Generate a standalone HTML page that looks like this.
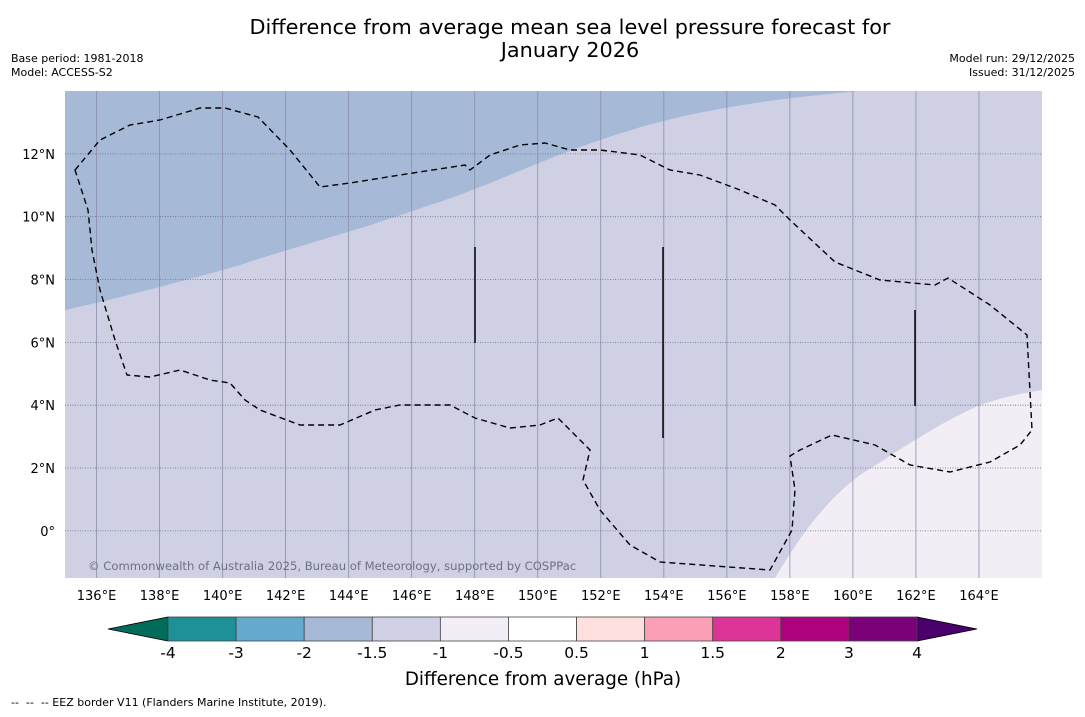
<!DOCTYPE html>
<html><head><meta charset="utf-8"><style>
body{margin:0;background:#fff;font-family:"DejaVu Sans","Liberation Sans",sans-serif;}
svg text{font-family:"DejaVu Sans","Liberation Sans",sans-serif;}
</style></head><body>
<svg id="s" width="1085" height="713" xmlns="http://www.w3.org/2000/svg">
<text x="570" y="34" font-size="20.8" text-anchor="middle">Difference from average mean sea level pressure forecast for</text>
<text x="570" y="57" font-size="20.8" text-anchor="middle">January 2026</text>
<text x="11" y="62" font-size="11">Base period: 1981-2018</text>
<text x="11" y="76" font-size="11">Model: ACCESS-S2</text>
<text x="1075" y="62" font-size="11" text-anchor="end">Model run: 29/12/2025</text>
<text x="1075" y="76" font-size="11" text-anchor="end">Issued: 31/12/2025</text>
<g id="map"></g>
<g id="cb"></g>
<text x="543" y="685" font-size="18.3" text-anchor="middle">Difference from average (hPa)</text>
<text x="11" y="706" font-size="11" xml:space="preserve">--  --  -- EEZ border V11 (Flanders Marine Institute, 2019).</text>
</svg>
<script>
const lonTicks=[136,138,140,142,144,146,148,150,152,154,156,158,160,162,164];
const latTicks=[0,2,4,6,8,10,12];
const levels=[-4,-3,-2,-1.5,-1,-0.5,0.5,1,1.5,2,3,4];
const levelLabels=["-4","-3","-2","-1.5","-1","-0.5","0.5","1","1.5","2","3","4"];
const colors=["#1e9097","#66a9cf","#a6b9d7","#cfd0e4","#f3edf5","#ffffff","#fde0dd","#fa9fb5","#dd3497","#ae017e","#7a0177"];
const underColor="#016c59", overColor="#49006a";
const NS="http://www.w3.org/2000/svg";
const X0=65,X1=1042,Y0=91,Y1=578,LON0=135,LON1=166,LAT0=-1.5,LAT1=14;
const px=l=>X0+(l-LON0)/(LON1-LON0)*(X1-X0);
const py=l=>Y1-(l-LAT0)/(LAT1-LAT0)*(Y1-Y0);
function el(t,a,p){const e=document.createElementNS(NS,t);for(const k in a)e.setAttribute(k,a[k]);p.appendChild(e);return e;}
const map=document.getElementById('map');
let r=el('rect',{x:X0,y:Y0,width:X1-X0,height:Y1-Y0,fill:"#cfd0e4"},map);


let p=el('path',{d:"M65,91 L860,91 C760,100 680,112 600,140 C540,160 480,190 430,205 C360,230 300,245 240,265 C170,285 110,300 65,310 Z",fill:"#a6b9d7"},map);


p=el('path',{d:"M775,578 C795,545 820,505 860,475 C900,450 930,428 980,405 C1010,395 1030,392 1042,390 L1042,578 Z",fill:"#f3edf5"},map);


lonTicks.forEach(l=>{const x=px(l);
 const g=el('line',{x1:x,x2:x,y1:Y0,y2:Y1,stroke:"#8a8fa8","stroke-width":0.8},map);
 
 
 const t=el('text',{x:x,y:600,"font-size":13,"text-anchor":"middle"},map);t.textContent=l+"°E";
 
 });
latTicks.forEach(l=>{const y=py(l);
 const g=el('line',{x1:X0,x2:X1,y1:y,y2:y,stroke:"#6a6f88","stroke-width":0.8,"stroke-dasharray":"1,1.5"},map);
 
 
 const t=el('text',{x:55,y:y+5,"font-size":13,"text-anchor":"end"},map);t.textContent=(l===0?"0°":l+"°N");
 
 });
p=el('path',{d:"M75,170 L100,140 L130,125 L160,120 L200,108 L225,108 L258,117 L290,150 L320,187 L350,183 L400,175 L465,165 L470,170 L490,155 L520,145 L545,143 L570,150 L600,150 L640,155 L670,170 L700,175 L740,190 L775,205 L790,220 L835,262 L880,280 L935,285 L948,278 L990,305 L1027,335 L1032,430 L1020,445 L990,462 L950,472 L910,465 L875,445 L832,435 L800,450 L790,456 L795,490 L792,530 L770,570 L660,562 L630,545 L600,510 L583,480 L590,450 L570,430 L558,418 L540,425 L510,428 L475,418 L450,405 L400,405 L375,410 L340,425 L300,425 L260,410 L245,400 L230,383 L210,380 L180,370 L150,377 L127,375 L115,340 L100,290 L92,250 L88,210 Z",fill:"none",stroke:"#000","stroke-width":1.4,"stroke-dasharray":"6,4"},map);


[[475,247,343],[663,247,438],[915,310,406]].forEach(v=>{const l=el('line',{x1:v[0],x2:v[0],y1:v[1],y2:v[2],stroke:"#000","stroke-width":1.5},map);
 
 });
let c=el('text',{x:88,y:570,"font-size":11.6,fill:"#6e7080"},map);c.textContent="© Commonwealth of Australia 2025, Bureau of Meteorology, supported by COSPPac";


const cb=document.getElementById('cb');
const CX0=168,CX1=917,CY0=617,CY1=641,n=colors.length;
const cw=(CX1-CX0)/n;
let t=el('path',{d:`M108,629 L${CX0},${CY0} L${CX0},${CY1} Z`,fill:underColor,stroke:"#000","stroke-width":0.8},cb);


t=el('path',{d:`M977,629 L${CX1},${CY0} L${CX1},${CY1} Z`,fill:overColor,stroke:"#000","stroke-width":0.8},cb);


colors.forEach((col,i)=>{const b=el('rect',{x:CX0+i*cw,y:CY0,width:cw,height:CY1-CY0,fill:col,stroke:"#444","stroke-width":0.8},cb);
 
 });
levels.forEach((v,i)=>{const x=CX0+i*cw;
 const tx=el('text',{x:x,y:658,"font-size":15.5,"text-anchor":"middle"},cb);tx.textContent=levelLabels[i];
 
 });
</script>
</body></html>
